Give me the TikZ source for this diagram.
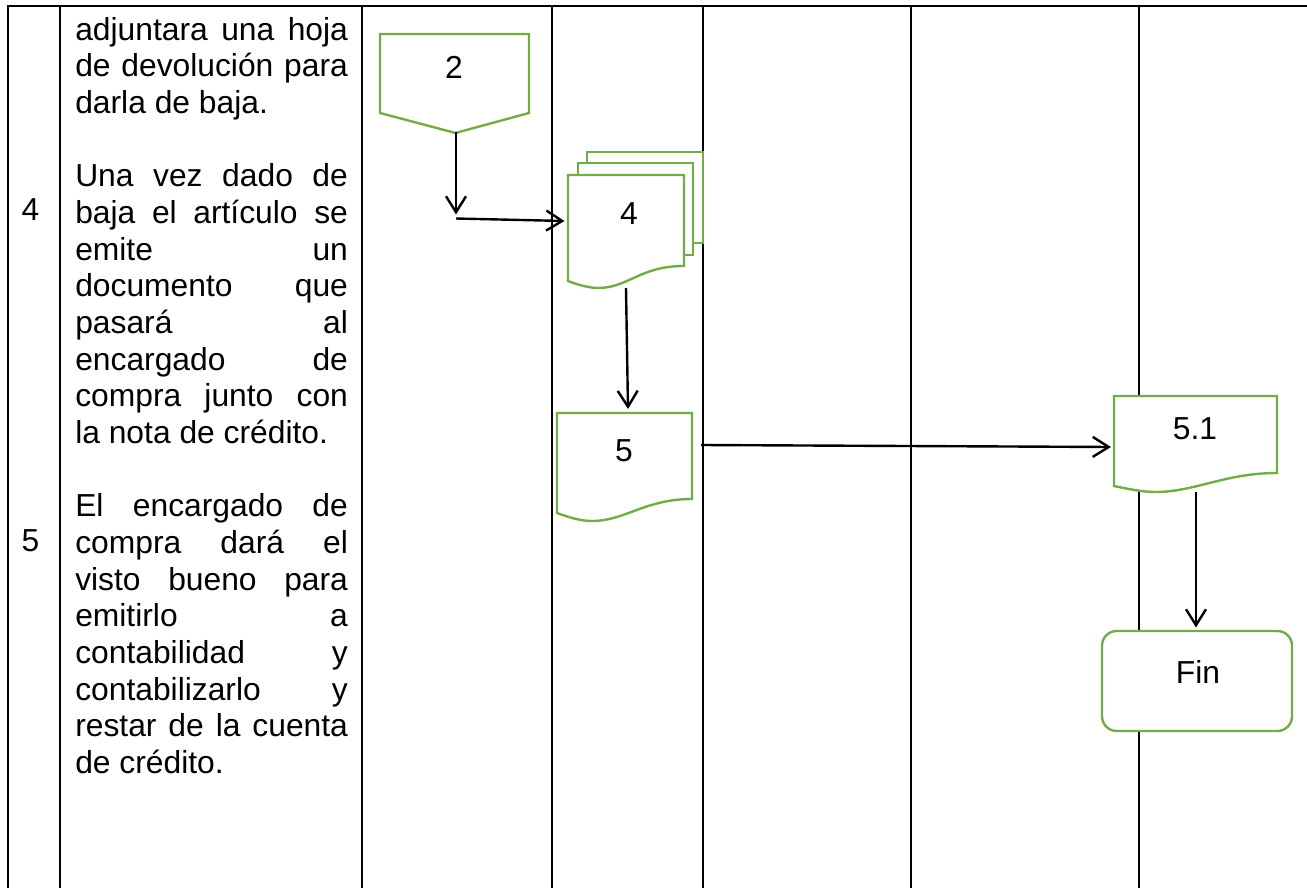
\documentclass[tikz,border=0pt]{standalone}
\usepackage{fontspec}
\setmainfont{Liberation Sans}
\usetikzlibrary{arrows.meta}
\definecolor{gborder}{HTML}{70AD47}
\tikzset{
  gridline/.style={black,line width=1.8pt,line cap=rect},
  flowshape/.style={draw=gborder,fill=white,line width=1.8pt,line join=miter},
  conn/.style={black,line width=1.8pt,-{Straight Barb[length=12pt,width=15pt,line width=1.8pt]}},
  lbl/.style={anchor=base,inner sep=0pt,font=\fontsize{23.85pt}{27.5pt}\selectfont},
  termbox/.style={draw=gborder,fill=white,line width=1.8pt,rounded corners=11pt,minimum width=142.5pt,minimum height=75pt,inner sep=0pt}
}
\begin{document}
\begin{tikzpicture}[x=0.75pt,y=-0.75pt]
\useasboundingbox (0,0) rectangle (1307,888);
% table
\coordinate (tl) at (8,6);
\coordinate (tr) at (1307,6);
\draw[gridline] (tl) -- (tr);
\foreach \cx/\nm in {8/a,60/b,362/c,552/d,703/e,911/f,1139/g}{
  \coordinate (top\nm) at (\cx,6);
  \coordinate (bot\nm) at (\cx,890);
  \draw[gridline] (top\nm) -- (bot\nm);
}
% left column
\node[lbl] (n4) at (30.5,221) {4};
\node[lbl] (n5) at (30.5,551) {5};
\node[anchor=north west,inner sep=0pt,text width=204.5pt,align=justify,font=\fontsize{23.85pt}{27.5pt}\selectfont] (desc) at (75,17) {%
adjuntara una hoja\linebreak
de devolución para\linebreak
darla de baja.\\[27.5pt]
Una vez dado de\linebreak
baja el artículo se\linebreak
emite un\linebreak
documento que\linebreak
pasará al\linebreak
encargado de\linebreak
compra junto con\linebreak
la nota de crédito.\\[27.5pt]
El encargado de\linebreak
compra dará el\linebreak
visto bueno para\linebreak
emitirlo a\linebreak
contabilidad y\linebreak
contabilizarlo y\linebreak
restar de la cuenta\linebreak
de crédito.};
% off-page connector 2
\draw[flowshape] (380,34) -- (529,34) -- (529,113) -- (455.5,133) -- (380,113) -- cycle;
\node[lbl] (s2) at (454,79) {2};
\coordinate (s2out) at (456,132);
\coordinate (j) at (456,214.5);
\coordinate (jst) at (456,218.5);
% multi-document 4
\draw[flowshape] (587,152) rectangle (703,243);
\draw[flowshape] (578,163) rectangle (693,255);
\draw[flowshape] (568,175) -- (684,175) -- (684,266)
  .. controls (640,266) and (628,288) .. (598,288)
  .. controls (590,288) and (578,285) .. (568,281) -- cycle;
\node[lbl] (s4) at (629,224) {4};
\coordinate (s4in) at (564.5,221);
\coordinate (s4out) at (626,288);
% document 5
\draw[flowshape] (557,413) -- (692,413) -- (692,499)
  .. controls (645,499) and (625,521) .. (592,521)
  .. controls (580,521) and (568,517) .. (557,513) -- cycle;
\node[lbl] (s5) at (624,461) {5};
\coordinate (s5in) at (628,409);
\coordinate (s5out) at (701,445);
% document 5.1
\draw[flowshape] (1114,396) -- (1277,396) -- (1277,473)
  .. controls (1225,473) and (1195,492) .. (1155,492)
  .. controls (1143,492) and (1128,489) .. (1114,486) -- cycle;
\node[lbl] (s51) at (1195,439) {5.1};
\coordinate (s51in) at (1111,447);
\coordinate (s51out) at (1196,492);
% fin
\node[termbox] (fin) at (1197,681) {};
\node[lbl] (fintext) at (1198,683) {Fin};
\coordinate (finin) at (1196,627.5);
% connectors
\draw[conn] (s2out) -- (j);
\draw[conn] (jst) -- (s4in);
\draw[conn] (s4out) -- (s5in);
\draw[conn] (s5out) -- (s51in);
\draw[conn] (s51out) -- (finin);
\end{tikzpicture}
\end{document}
